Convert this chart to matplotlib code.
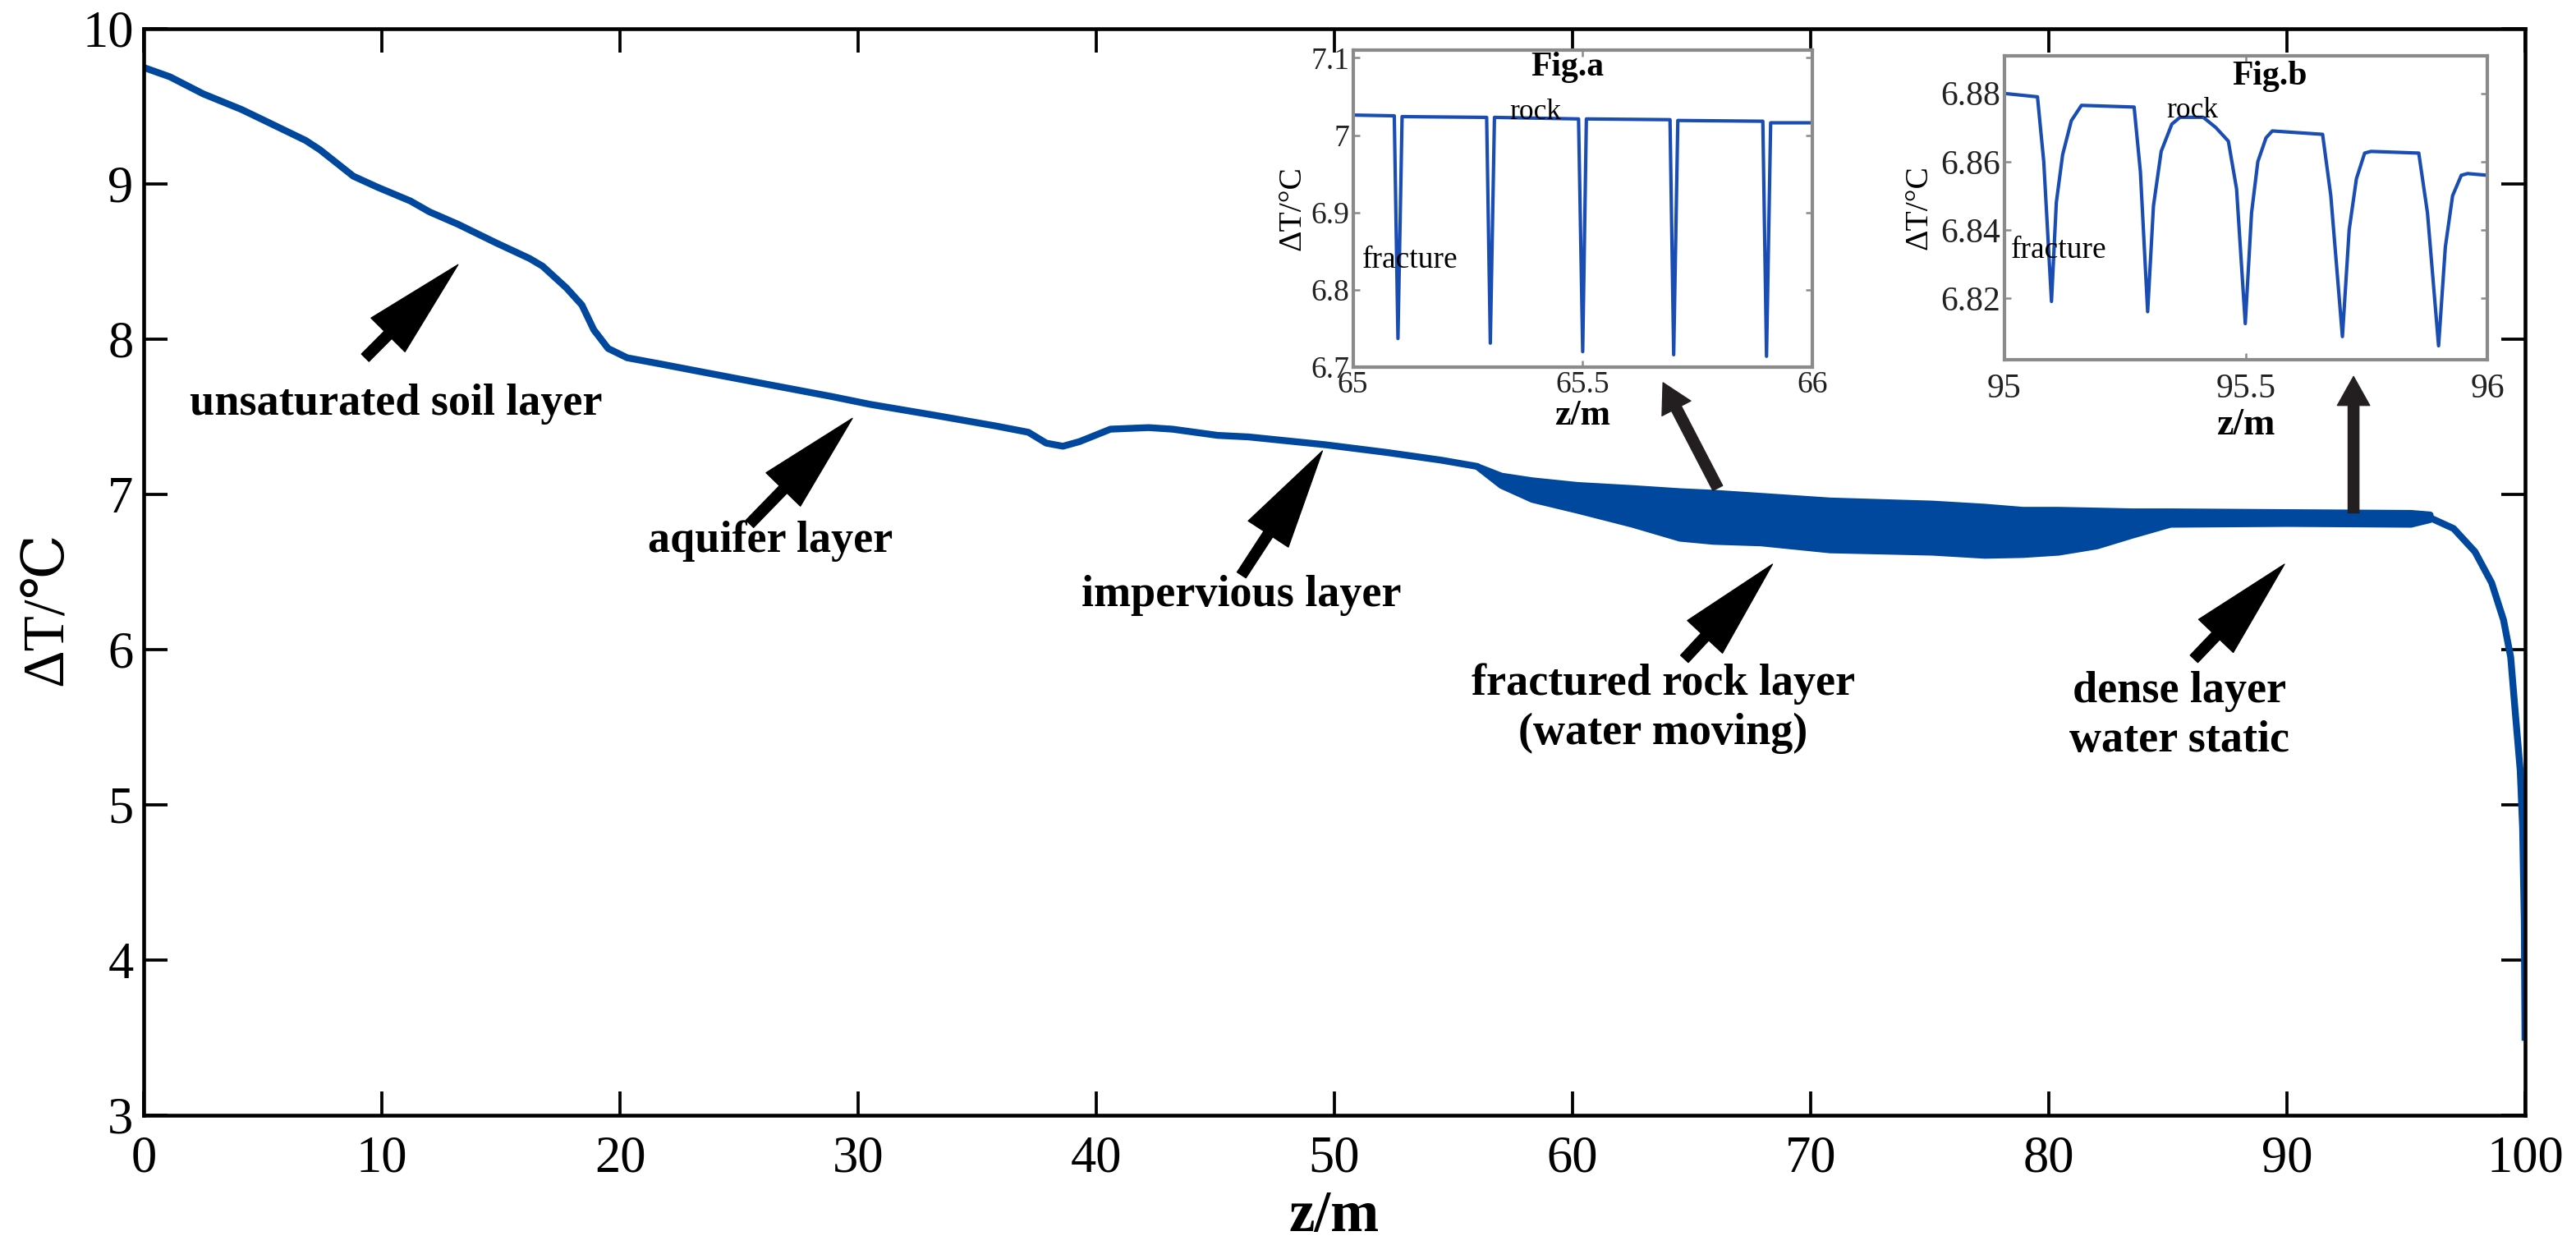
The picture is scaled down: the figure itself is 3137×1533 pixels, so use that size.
import matplotlib
matplotlib.use("Agg")
import matplotlib.pyplot as plt

plt.rcParams['font.family'] = ['Liberation Serif', 'DejaVu Serif', 'DejaVu Sans']

# --- data ---
# smooth part of the profile: soil, aquifer and impervious layers
z_profile = [0, 1.1, 2.5, 4.1, 5.05, 6.8, 7.4, 8.8, 9.8, 11.2, 12.0, 13.2, 14.8,
             16.2, 16.75, 17.75, 18.4, 18.9, 19.5, 20.3, 21.7, 23.4, 25.8, 28.9,
             30.5, 33.2, 35.8, 37.15, 37.9, 38.6, 39.3, 40.6, 42.2, 43.2, 45.1,
             46.4, 49.6, 52.2, 54.5, 56.0]
dT_profile = [9.75, 9.69, 9.58, 9.48, 9.41, 9.28, 9.22, 9.05, 8.98, 8.89, 8.82,
              8.74, 8.62, 8.52, 8.47, 8.33, 8.22, 8.06, 7.94, 7.88, 7.84, 7.79,
              7.72, 7.63, 7.58, 7.51, 7.44, 7.40, 7.33, 7.31, 7.34, 7.42, 7.43,
              7.42, 7.38, 7.37, 7.32, 7.27, 7.22, 7.18]

# fractured rock + dense layer: envelope of the fracture oscillations
z_band = [56.0, 57.0, 58.3, 60.2, 62.5, 64.5, 65.9, 67.9, 70.8, 75.1, 77.3,
          78.9, 80.4, 82.0, 83.5, 85.1, 90.0, 95.2, 96.0]
dT_band_top = [7.18, 7.12, 7.09, 7.06, 7.04, 7.02, 7.01, 6.99, 6.96, 6.94,
               6.92, 6.90, 6.90, 6.895, 6.89, 6.89, 6.885, 6.88, 6.87]
dT_band_bottom = [7.18, 7.06, 6.97, 6.90, 6.81, 6.72, 6.70, 6.69, 6.645, 6.63,
                  6.61, 6.615, 6.63, 6.67, 6.74, 6.81, 6.815, 6.81, 6.84]

# bottom of the borehole
z_end = [96.0, 97.0, 97.9, 98.6, 99.1, 99.4, 99.6, 99.8, 99.9, 99.97, 100.0]
dT_end = [6.85, 6.78, 6.63, 6.43, 6.19, 5.95, 5.58, 5.22, 4.85, 4.25, 3.48]

# Fig.a : 65-66 m
z_a = [65.0, 65.090, 65.098, 65.107, 65.291, 65.299, 65.308, 65.491, 65.500,
       65.508, 65.690, 65.698, 65.707, 65.892, 65.900, 65.909, 66.0]
dT_a = [7.026, 7.025, 6.737, 7.024, 7.023, 6.731, 7.023, 7.021, 6.720, 7.021,
        7.020, 6.716, 7.019, 7.018, 6.714, 7.016, 7.016]

# Fig.b : 95-96 m
z_b = [95.0, 95.069, 95.082, 95.098, 95.108, 95.121, 95.139, 95.160, 95.269,
       95.282, 95.297, 95.309, 95.325, 95.347, 95.364, 95.412, 95.438, 95.464,
       95.481, 95.499, 95.512, 95.525, 95.542, 95.555, 95.659, 95.676, 95.700,
       95.714, 95.729, 95.746, 95.759, 95.858, 95.876, 95.899, 95.913, 95.928,
       95.946, 95.959, 96.0]
dT_b = [6.880, 6.879, 6.860, 6.819, 6.848, 6.862, 6.872, 6.8765, 6.876,
        6.857, 6.816, 6.847, 6.863, 6.871, 6.873, 6.873, 6.870, 6.866,
        6.852, 6.8125, 6.845, 6.860, 6.867, 6.869, 6.868, 6.850, 6.8087,
        6.840, 6.855, 6.8625, 6.863, 6.8625, 6.845, 6.806, 6.835, 6.850,
        6.856, 6.8565, 6.856]

BLUE = '#00479e'

fig = plt.figure(figsize=(3137 / 300, 1533 / 300), dpi=300)
ax = fig.add_axes([0.0558, 0.1142, 0.9244, 0.863])

ax.plot(z_profile, dT_profile, color=BLUE, lw=2.0, solid_capstyle='round')
ax.fill_between(z_band, dT_band_bottom, dT_band_top, color=BLUE, lw=2.0,
                edgecolor=BLUE)
ax.plot(z_end, dT_end, color=BLUE, lw=2.0, solid_capstyle='butt')

ax.set_xlim(0, 100)
ax.set_ylim(3, 10)
ax.set_xticks(range(0, 101, 10))
ax.set_yticks(range(3, 11))
ax.tick_params(direction='in', length=7, width=0.9, top=True, right=True,
               labelsize=15)
ax.tick_params(axis='x', pad=6)
ax.tick_params(axis='y', pad=3)
for sp in ax.spines.values():
    sp.set_linewidth(1.1)
ax.set_xlabel('z/m', fontsize=17, fontweight='bold', labelpad=2)
ax.set_ylabel('ΔT/℃', fontsize=17)
ax.yaxis.set_label_coords(-0.029, 0.466)

# layer annotations: (text, text pos, arrow tail, arrow tip)
layer_notes = [
    ('unsaturated soil layer', (10.6, 7.58), (9.3, 7.88), (13.2, 8.48)),
    ('aquifer layer', (26.3, 6.70), (25.45, 6.81), (29.76, 7.49)),
    ('impervious layer', (46.1, 6.35), (46.1, 6.48), (49.5, 7.28)),
    ('fractured rock layer\n(water moving)', (63.8, 5.62), (64.7, 5.94), (68.4, 6.55)),
    ('dense layer\nwater static', (85.5, 5.57), (86.1, 5.94), (89.9, 6.55)),
]
big_head = 'simple,head_length=2.9,head_width=1.4,tail_width=0.31'
for text, pos, tail, tip in layer_notes:
    ax.text(pos[0], pos[1], text, ha='center', va='center', fontsize=13,
            fontweight='bold', linespacing=1.25)
    ax.annotate('', xy=tip, xytext=tail,
                arrowprops=dict(arrowstyle=big_head, lw=0.3, color='black',
                                mutation_scale=10, shrinkA=0, shrinkB=0))

# arrows pointing to the two insets
small_head = 'simple,head_length=0.85,head_width=0.95,tail_width=0.32'
for tail, tip in [((66.1, 7.04), (63.8, 7.72)), ((92.8, 6.88), (92.8, 7.76))]:
    ax.annotate('', xy=tip, xytext=tail,
                arrowprops=dict(arrowstyle=small_head, lw=0.3, color='#231f20',
                                mutation_scale=10, shrinkA=0, shrinkB=0))


def style_inset(axi, fs):
    for sp in axi.spines.values():
        sp.set_color('#8a8a8a')
        sp.set_linewidth(1.0)
    axi.tick_params(direction='in', length=2, width=0.6, colors='#8a8a8a',
                    labelcolor='#222222', labelsize=fs, top=True, right=True)


# Fig.a
axa = fig.add_axes([0.5252, 0.7084, 0.1784, 0.2518])
axa.plot(z_a, dT_a, color='#1a4db3', lw=1.0)
axa.set_xlim(65, 66)
axa.set_ylim(6.7, 7.11)
axa.set_xticks([65, 65.5, 66])
axa.set_xticklabels(['65', '65.5', '66'])
axa.set_yticks([6.7, 6.8, 6.9, 7.0, 7.1])
axa.set_yticklabels(['6.7', '6.8', '6.9', '7', '7.1'])
style_inset(axa, 9)
axa.tick_params(axis='x', pad=1)
axa.tick_params(axis='y', pad=1)
axa.set_xlabel('z/m', fontsize=10.5, fontweight='bold', labelpad=0)
axa.set_ylabel('ΔT/°C', fontsize=9.5, labelpad=1)
axa.text(65.466, 7.088, 'Fig.a', ha='center', va='center', fontsize=10,
         fontweight='bold')
axa.text(65.397, 7.03, 'rock', ha='center', va='center', fontsize=8.5)
axa.text(65.124, 6.838, 'fracture', ha='center', va='center', fontsize=9)

# Fig.b
axb = fig.add_axes([0.7780, 0.7145, 0.1876, 0.2411])
axb.plot(z_b, dT_b, color='#1a4db3', lw=1.0)
axb.set_xlim(95, 96)
axb.set_ylim(6.802, 6.891)
axb.set_xticks([95, 95.5, 96])
axb.set_xticklabels(['95', '95.5', '96'])
axb.set_yticks([6.82, 6.84, 6.86, 6.88])
style_inset(axb, 10)
axb.tick_params(axis='x', pad=4)
axb.tick_params(axis='y', pad=1)
axb.set_xlabel('z/m', fontsize=11, fontweight='bold', labelpad=1)
axb.set_ylabel('ΔT/°C', fontsize=9.5, labelpad=2)
axb.text(95.55, 6.885, 'Fig.b', ha='center', va='center', fontsize=10,
         fontweight='bold')
axb.text(95.39, 6.875, 'rock', ha='center', va='center', fontsize=8.5)
axb.text(95.113, 6.834, 'fracture', ha='center', va='center', fontsize=9)

fig.savefig('out.png', dpi=300, facecolor='white')
